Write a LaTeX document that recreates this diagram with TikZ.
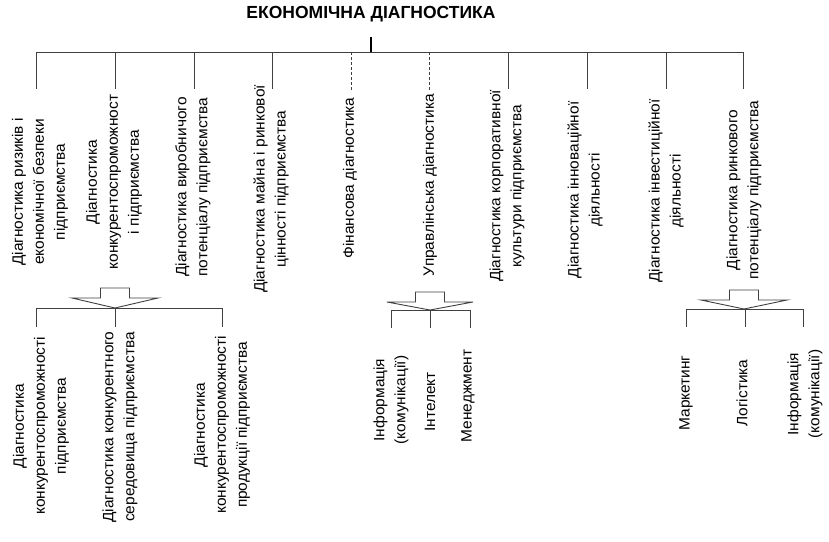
\documentclass[tikz,border=0pt]{standalone}
\usepackage{fontspec}
\setmainfont{Liberation Sans}
\newfontfamily\rotfont[FakeStretch=1.03]{Liberation Sans}
\newcommand\blockarr[5]{% name, cx, y0, y1, y2
  \draw[barrow] (#2-14.5,#3) -- (#2+14.5,#3) -- (#2+14.5,#4) -- (#2+43,#4) -- (#2,#5) -- (#2-43,#4) -- (#2-14.5,#4) -- cycle;
  \coordinate (#1) at (#2,#5);
}
\begin{document}
\begin{tikzpicture}[x=1pt,y=-1pt,
  line/.style={draw=black!75, line width=1pt},
  dline/.style={line, dash pattern=on 3pt off 2pt},
  rtext/.style={rotate=90, align=center, inner sep=0pt, font=\rotfont\fontsize{15}{21}\selectfont},
  ttext/.style={font=\bfseries\fontsize{17.5}{20}\selectfont, inner sep=0pt},
  barrow/.style={draw=black!75, line width=0.9pt, fill=white, line join=miter}]
\fill[white] (0,0) rectangle (829,541);
\useasboundingbox (0,0) rectangle (829,541);

% title
\node[ttext] (title) at (371,14) {ЕКОНОМІЧНА ДІАГНОСТИКА};
\coordinate (tb) at (371,37);
\coordinate (bus) at (371,52);
\draw[line width=1.6pt] (tb) -- (bus);

% main bus
\coordinate (busL) at (36,52);
\coordinate (busR) at (743,52);
\draw[line] (busL) -- (busR);

% columns
\node[rtext] (c1) at (40,192) {Діагностика ризиків і\\економічної безпеки\\підприємства};
\node[rtext] (c2) at (114,182) {Діагностика\\конкурентоспроможност\\і підприємства};
\node[rtext] (c3) at (193,187) {Діагностика виробничого\\потенціалу підприємства};
\node[rtext] (c4) at (271,189) {Діагностика майна і ринкової\\цінності підприємства};
\node[rtext] (c5) at (350,178) {Фінансова діагностика};
\node[rtext] (c6) at (430,185) {Управлінська діагностика};
\node[rtext] (c7) at (507,186) {Діагностика корпоративної\\культури підприємства};
\node[rtext] (c8) at (585,190) {Діагностика інноваційної\\діяльності};
\node[rtext] (c9) at (666,191) {Діагностика інвестиційної\\діяльності};
\node[rtext] (c10) at (744,190) {Діагностика ринкового\\потенціалу підприємства};

% drops
\foreach \i/\x in {1/36,2/115,3/194,4/272,7/508,8/587,9/666,10/743}{
  \coordinate (b\i) at (\x,52);
  \coordinate (e\i) at (\x,89);
  \draw[line] (b\i) -- (e\i);
}
\foreach \i/\x in {5/351,6/429}{
  \coordinate (b\i) at (\x,52);
  \coordinate (e\i) at (\x,90);
  \draw[dline] (b\i) -- (e\i);
}

% block arrows
\blockarr{t1}{115}{288}{298}{308}
\blockarr{t2}{430}{292}{302}{310}
\blockarr{t3}{744}{290}{300}{309}

% left sub-tree
\coordinate (s1L) at (36,308);
\coordinate (s1R) at (222,308);
\draw[line] (s1L) -- (s1R);
\foreach \i/\x in {a/36,b/115,c/222}{
  \coordinate (sb\i) at (\x,308);
  \coordinate (se\i) at (\x,327);
  \draw[line] (sb\i) -- (se\i);
}
\node[rtext] (la) at (41,426) {Діагностика\\конкурентоспроможності\\підприємства};
\node[rtext] (lb) at (120,427) {Діагностика конкурентного\\середовища підприємства};
\node[rtext] (lc) at (222,425) {Діагностика\\конкурентоспроможності\\продукції підприємства};

% middle sub-tree
\coordinate (s2L) at (391,310);
\coordinate (s2R) at (470,310);
\draw[line] (s2L) -- (s2R);
\foreach \i/\x in {a/391,b/430,c/470}{
  \coordinate (mb\i) at (\x,310);
  \coordinate (me\i) at (\x,328);
  \draw[line] (mb\i) -- (me\i);
}
\node[rtext] (ma) at (391,400) {Інформація\\(комунікації)};
\node[rtext] (mb) at (430,402) {Інтелект};
\node[rtext] (mc) at (468,396) {Менеджмент};

% right sub-tree
\coordinate (s3L) at (686,309);
\coordinate (s3R) at (803,309);
\draw[line] (s3L) -- (s3R);
\foreach \i/\x in {a/686,b/745,c/803}{
  \coordinate (rb\i) at (\x,309);
  \coordinate (re\i) at (\x,327);
  \draw[line] (rb\i) -- (re\i);
}
\node[rtext] (ra) at (686,393) {Маркетинг};
\node[rtext] (rb) at (742,393) {Логістика};
\node[rtext] (rc) at (805,394) {Інформація\\(комунікації)};
\end{tikzpicture}
\end{document}
